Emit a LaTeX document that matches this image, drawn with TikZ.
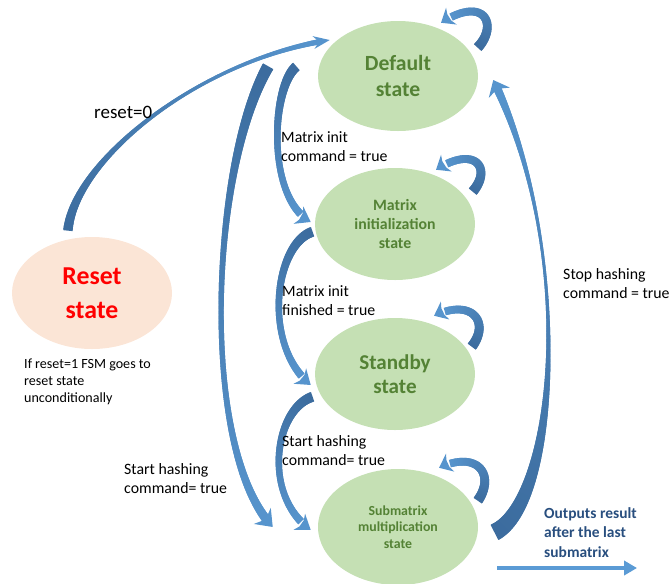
\documentclass[tikz,border=0pt]{standalone}
\usepackage{fontspec}
\setmainfont{Carlito}
\usetikzlibrary{shapes.geometric,decorations.markings,calc,arrows.meta}

\definecolor{stategreen}{HTML}{C5E0B4}
\definecolor{statetext}{HTML}{548235}
\definecolor{resetfill}{HTML}{FBE5D6}
\definecolor{resettext}{HTML}{FF0000}
\definecolor{ribdark}{RGB}{60,108,158}
\definecolor{riblight}{RGB}{91,155,213}
\definecolor{notecol}{RGB}{40,78,126}

\tikzset{
  state/.style={ellipse, fill=stategreen, draw=none, inner sep=0pt,
    minimum width=48mm, minimum height=33.6mm, align=center, text=statetext},
  lbl/.style={align=left, inner sep=0pt, text=black,
    font=\fontsize{13.5pt}{15.8pt}\selectfont},
  % curved block arrow: tail width, middle width, width before the head,
  % head length, head half width (all in pt); dark at the tail, light at the head
  ribbon/.style n args={5}{
    postaction={decorate, decoration={markings,
      mark=between positions 0 and -#4pt step 0.7pt with {
        \pgfmathsetmacro\ribt{min(1,\pgfkeysvalueof{/pgf/decoration/mark info/distance from start}/(\pgfdecoratedpathlength-#4))}
        \pgfmathsetmacro\ribw{0.5*(#1*(1-\ribt)*(1-2*\ribt)+4*#2*\ribt*(1-\ribt)+#3*\ribt*(2*\ribt-1))}
        \pgfmathtruncatemacro\ribp{85*\ribt}
        \fill[riblight!\ribp!ribdark] (-0.75pt,-\ribw pt) rectangle (0.75pt,\ribw pt);
      }
    }},
    postaction={decorate, decoration={markings,
      mark=at position -0.05pt with {
        \fill[riblight!85!ribdark] (0pt,0pt) -- (-#4pt,#5pt) -- (-0.8*#4pt,0.5*#3pt)
          -- (-0.8*#4pt,-0.5*#3pt) -- (-#4pt,-#5pt) -- cycle;
      }
    }}
  }
}

\begin{document}
\begin{tikzpicture}[x=0.3mm, y=-0.3mm]
\useasboundingbox (0,0) rectangle (671,583);

% states
\node[state, minimum height=33mm, font=\bfseries\fontsize{18.5pt}{22.6pt}\selectfont]
  (default) at (398,76) {Default\\state};
\node[state, font=\bfseries\fontsize{13.5pt}{16pt}\selectfont]
  (mi) at (395,224) {Matrix\\initialization\\state};
\node[state, font=\bfseries\fontsize{18pt}{20.5pt}\selectfont]
  (sb) at (395,374) {Standby\\state};
\node[state, minimum height=34.8mm, font=\bfseries\fontsize{11.8pt}{14.3pt}\selectfont]
  (sub) at (398,527) {Submatrix\\multiplication\\state};
\node[state, fill=resetfill, text=resettext, font=\bfseries\fontsize{22pt}{29pt}\selectfont]
  (reset) at (92,293) {Reset\\state};

% transitions
\path[ribbon={8}{3}{4.5}{14}{5.5}]
  ($(reset.north)+(-24,-7)$) .. controls +(7,-70) and +(-130,20) .. ($(default.west)+(12,-36)$);
\path[ribbon={8.5}{5.5}{6.5}{12}{8.5}]
  ($(default.west)+(-22,-9)$) .. controls +(-24,21) and +(-45,-25) .. ($(mi.west)+(-4,-2)$);
\path[ribbon={10}{4.5}{7.5}{13}{10}]
  ($(default.west)+(-50,-9)$) .. controls +(-58,103) and +(-73,-77) .. ($(sub.west)+(-45,0)$);
\path[ribbon={8.5}{5.5}{6.5}{12}{8.5}]
  ($(mi.west)+(-3,8)$) .. controls +(-37,13) and +(-49,-40) .. ($(sb.west)+(-4,11)$);
\path[ribbon={8.5}{5.5}{6.5}{12}{8.5}]
  ($(sb.west)+(-3,23)$) .. controls +(-37,13) and +(-49,-35) .. ($(sub.west)+(-7,3)$);
\path[ribbon={14.5}{2.8}{7}{12}{10}]
  ($(sub.east)+(17,5)$) .. controls +(62,-32) and +(82,170) .. ($(default.east)+(15,4)$);

% self loops
\path[ribbon={8.5}{7}{6.5}{10.5}{8.5}]
  ($(default.east)+(0,-29)$) .. controls +(20,-22) and +(44,-28) .. ($(default.north)+(43,2)$);
\path[ribbon={8.5}{7}{6.5}{10.5}{8.5}]
  ($(mi.east)+(-2,-33)$) .. controls +(19,-23) and +(39,-25) .. ($(mi.north)+(41,2)$);
\path[ribbon={8.5}{7}{6.5}{10.5}{8.5}]
  ($(sb.east)+(-3,-28)$) .. controls +(18,-24) and +(38,-18) .. ($(sb.north)+(39,-2)$);
\path[ribbon={8.5}{7}{6.5}{10.5}{8.5}]
  ($(sub.east)+(0,-27)$) .. controls +(17,-25) and +(39,-18) .. ($(sub.north)+(41,-1)$);

% transition labels (anchored at the baseline of their last line)
\node[lbl, anchor=base west, font=\fontsize{16.2pt}{19pt}\selectfont] (lreset) at (94,118) {reset=0};
\node[lbl, anchor=base west] (lmi) at (281,161) {Matrix init\\command = true};
\node[lbl, anchor=base west] (lsb) at (282,315) {Matrix init\\finished = true};
\node[lbl, anchor=base west] (lsub) at (282,465) {Start hashing\\command= true};
\node[lbl, anchor=base west] (louter) at (124,493) {Start hashing\\command= true};
\node[lbl, anchor=base west] (lstop) at (563,298) {Stop hashing\\command = true};
\node[lbl, anchor=base west, font=\fontsize{12pt}{14.5pt}\selectfont] (lnote) at (24,402)
  {If reset=1 FSM goes to\\reset state\\unconditionally};

% output note
\node[lbl, anchor=base west, text=notecol, font=\bfseries\fontsize{13.2pt}{16.3pt}\selectfont]
  (lout) at (544,557) {Outputs result\\after the last\\submatrix};
\coordinate (o1) at (497,568);
\coordinate (o2) at (637,568);
\draw[riblight, line width=3.4pt, -{Triangle[length=11pt,width=12pt]}] (o1) -- (o2);
\end{tikzpicture}
\end{document}
